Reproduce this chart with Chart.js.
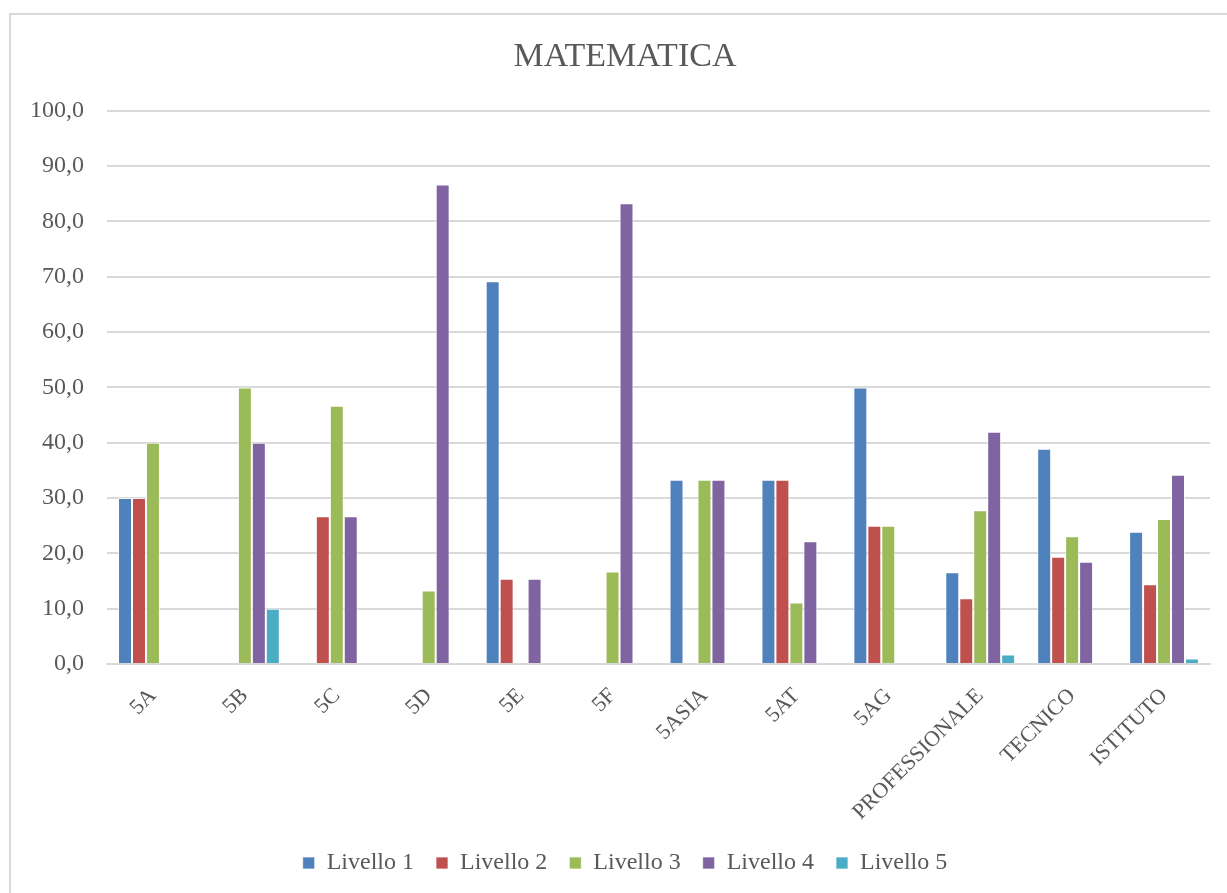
<!DOCTYPE html>
<html>
<head>
<meta charset="utf-8">
<script src="https://cdn.jsdelivr.net/npm/chart.js@4.4.0/dist/chart.umd.min.js"></script>
<style>
  html, body { margin: 0; padding: 0; background: #fff; }
  #wrap { position: relative; width: 1227px; height: 893px; overflow: hidden; }
  #frame { position: absolute; left: 9px; top: 13px; width: 1300px; height: 1000px; border: 2px solid #d9d9d9; box-sizing: border-box; }
  canvas { position: absolute; left: 9px; top: 0; }
</style>
</head>
<body>
<div id="wrap">
  <div id="frame"></div>
  <canvas id="c" width="1232" height="893"></canvas>
</div>
<script>
const categories = ["5A","5B","5C","5D","5E","5F","5ASIA","5AT","5AG","PROFESSIONALE","TECNICO","ISTITUTO"];
const seriesNames = ["Livello 1","Livello 2","Livello 3","Livello 4","Livello 5"];
const livello1 = [30.0, 0, 0, 0, 69.2, 0, 33.3, 33.3, 50.0, 16.6, 38.9, 23.9];
const livello2 = [30.0, 0, 26.7, 0, 15.4, 0, 0, 33.3, 25.0, 11.9, 19.4, 14.4];
const livello3 = [40.0, 50.0, 46.7, 13.3, 0, 16.7, 33.3, 11.1, 25.0, 27.8, 23.1, 26.2];
const livello4 = [0, 40.0, 26.7, 86.7, 15.4, 83.3, 33.3, 22.2, 0, 42.0, 18.5, 34.2];
const livello5 = [0, 10.0, 0, 0, 0, 0, 0, 0, 0, 1.7, 0, 1.0];
const yTicks = [0,10,20,30,40,50,60,70,80,90,100];
const colors = ["#4F81BD","#C0504D","#9BBB59","#8064A2","#4BACC6"];
const allSeries = [livello1, livello2, livello3, livello4, livello5];

const FONT = "'Liberation Serif', 'Times New Roman', serif";
const TXT = "#595959";

new Chart(document.getElementById('c'), {
  type: 'bar',
  data: {
    labels: categories,
    datasets: allSeries.map((d, i) => ({
      label: seriesNames[i],
      data: d,
      backgroundColor: colors[i],
      borderColor: 'rgba(255,255,255,0.7)',
      borderWidth: 1,
      categoryPercentage: 0.76,
      barPercentage: 1.0,
      yAxisID: 'y'
    }))
  },
  options: {
    responsive: false,
    animation: false,
    devicePixelRatio: 1,
    layout: { padding: { left: 0, right: 0, top: 0, bottom: 8 } },
    plugins: {
      title: {
        display: true,
        text: 'MATEMATICA',
        color: TXT,
        font: { family: FONT, size: 34, weight: 'normal' },
        padding: { top: 37, bottom: 33 }
      },
      legend: {
        position: 'bottom',
        labels: {
          color: TXT,
          font: { family: FONT, size: 24 },
          boxWidth: 12,
          boxHeight: 12,
          padding: 22
        }
      },
      tooltip: { enabled: false }
    },
    scales: {
      x: {
        grid: { display: false },
        border: { display: true, color: '#d9d9d9', width: 2 },
        ticks: {
          color: TXT,
          font: { family: FONT, size: 22 },
          maxRotation: 45,
          minRotation: 45,
          padding: 11
        },
        afterFit: (s) => { s.height = 165; }
      },
      y: {
        position: 'left',
        min: 0,
        max: 100,
        afterBuildTicks: (s) => { s.ticks = yTicks.map(v => ({ value: v })); },
        grid: { color: '#d9d9d9', lineWidth: 2, drawTicks: false },
        border: { display: false },
        ticks: {
          color: TXT,
          font: { family: FONT, size: 24 },
          padding: 23,
          callback: (v) => Number(v).toFixed(1).replace('.', ',')
        },
        afterFit: (s) => { s.width = 98; }
      },
      yRight: {
        position: 'right',
        min: 0,
        max: 100,
        grid: { display: false, drawOnChartArea: false },
        border: { display: false },
        ticks: { display: false },
        afterFit: (s) => { s.width = 31; }
      }
    }
  }
});
</script>
</body>
</html>
